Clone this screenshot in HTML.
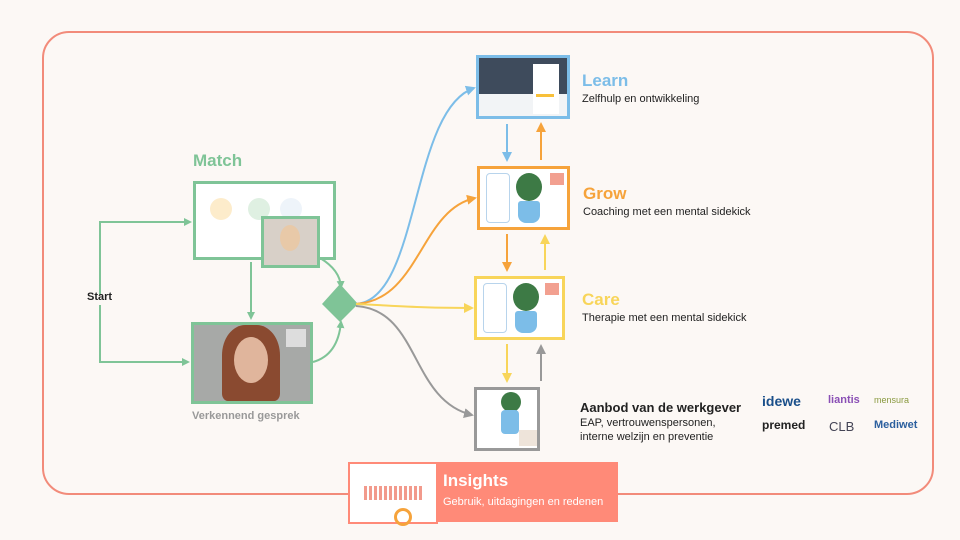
<!DOCTYPE html><html><head><style>
body{margin:0;width:960px;height:540px;background:#fcf8f5;font-family:"Liberation Sans",sans-serif;position:relative;overflow:hidden}
.a{position:absolute}
.t{position:absolute;color:#222;font-size:11px;white-space:nowrap}
.h{position:absolute;font-weight:bold;font-size:17px}
</style></head><body>
<svg class="a" style="left:0;top:0" width="960" height="540">
<defs>
<marker id="g" markerWidth="8" markerHeight="8" refX="6" refY="4" orient="auto" markerUnits="userSpaceOnUse"><path d="M0,0L8,4L0,8z" fill="#7fc497"/></marker>
<marker id="b" markerWidth="10" markerHeight="10" refX="8" refY="5" orient="auto" markerUnits="userSpaceOnUse"><path d="M0,0L10,5L0,10z" fill="#7cbde8"/></marker>
<marker id="o" markerWidth="10" markerHeight="10" refX="8" refY="5" orient="auto" markerUnits="userSpaceOnUse"><path d="M0,0L10,5L0,10z" fill="#f6a33b"/></marker>
<marker id="y" markerWidth="10" markerHeight="10" refX="8" refY="5" orient="auto" markerUnits="userSpaceOnUse"><path d="M0,0L10,5L0,10z" fill="#f8d55a"/></marker>
<marker id="k" markerWidth="10" markerHeight="10" refX="8" refY="5" orient="auto" markerUnits="userSpaceOnUse"><path d="M0,0L10,5L0,10z" fill="#999"/></marker>
</defs>
<rect x="43" y="32" width="890" height="462" rx="26" fill="none" stroke="#f28b7a" stroke-width="2"/>
<g fill="none" stroke="#7fc497" stroke-width="2">
<path d="M100,295V222H190" marker-end="url(#g)"/>
<path d="M100,305V362H188" marker-end="url(#g)"/>
<path d="M251,262V318" marker-end="url(#g)"/>
<path d="M320,258Q340,270 341,287" marker-end="url(#g)"/>
<path d="M313,362Q338,355 341,322" marker-end="url(#g)"/>
</g>
<path d="M340,284L358,304L340,322L322,304z" fill="#7fc497"/>
<path d="M356,304C420,300 410,110 474,88" fill="none" stroke="#7cbde8" stroke-width="2" marker-end="url(#b)"/>
<path d="M356,304C420,300 420,210 475,198" fill="none" stroke="#f6a33b" stroke-width="2" marker-end="url(#o)"/>
<path d="M356,304C400,306 420,308 472,308" fill="none" stroke="#f8d55a" stroke-width="2" marker-end="url(#y)"/>
<path d="M356,306C420,310 410,400 472,415" fill="none" stroke="#999" stroke-width="2" marker-end="url(#k)"/>
<path d="M507,124V160" stroke="#7cbde8" stroke-width="2" marker-end="url(#b)"/>
<path d="M541,160V124" stroke="#f6a33b" stroke-width="2" marker-end="url(#o)"/>
<path d="M507,234V270" stroke="#f6a33b" stroke-width="2" marker-end="url(#o)"/>
<path d="M545,270V236" stroke="#f8d55a" stroke-width="2" marker-end="url(#y)"/>
<path d="M507,344V381" stroke="#f8d55a" stroke-width="2" marker-end="url(#y)"/>
<path d="M541,381V346" stroke="#999" stroke-width="2" marker-end="url(#k)"/>
</svg>
<div class="t" style="left:87px;top:291px;font-weight:bold">Start</div>
<div class="h" style="left:193px;top:151px;color:#7fc497">Match</div>
<div class="a" style="left:193px;top:181px;width:137px;height:73px;border:3px solid #7fc497;background:#fff">
<div class="a" style="left:14px;top:14px;width:22px;height:22px;border-radius:50%;background:#fdeccb"></div>
<div class="a" style="left:52px;top:14px;width:22px;height:22px;border-radius:50%;background:#dff0e2"></div>
<div class="a" style="left:84px;top:14px;width:22px;height:22px;border-radius:50%;background:#eef4fa"></div>
</div>
<div class="a" style="left:261px;top:216px;width:53px;height:46px;border:3px solid #7fc497;background:#d8d0c8"><div class="a" style="left:16px;top:6px;width:20px;height:26px;border-radius:50%;background:#e8c9a8"></div></div>
<div class="a" style="left:191px;top:322px;width:116px;height:76px;border:3px solid #7fc497;background:#a7a9a7">
<div class="a" style="left:28px;top:0px;width:58px;height:76px;border-radius:40% 40% 10% 10%;background:#8a4a30"></div>
<div class="a" style="left:40px;top:12px;width:34px;height:46px;border-radius:50%;background:#e0b59c"></div>
<div class="a" style="left:92px;top:4px;width:20px;height:18px;background:#ddd"></div>
</div>
<div class="t" style="left:192px;top:410px;color:#999;font-weight:bold">Verkennend gesprek</div>
<div class="a" style="left:476px;top:55px;width:88px;height:58px;border:3px solid #7cbde8;background:#3e4b5c">
<div class="a" style="left:0;top:36px;width:88px;height:22px;background:#f2f4f6"></div>
<div class="a" style="left:54px;top:6px;width:26px;height:50px;background:#fff"></div>
<div class="a" style="left:57px;top:36px;width:18px;height:3px;background:#f8c03a"></div>
</div>
<div class="h" style="left:582px;top:71px;color:#7cbde8">Learn</div>
<div class="t" style="left:582px;top:93px">Zelfhulp en ontwikkeling</div>
<div class="a" style="left:477px;top:166px;width:87px;height:58px;border:3px solid #f6a33b;background:#fff">
<div class="a" style="left:6px;top:4px;width:22px;height:48px;border:1px solid #b8d4ec;border-radius:4px"></div>
<div class="a" style="left:36px;top:4px;width:26px;height:28px;border-radius:50%;background:#3d7a45"></div>
<div class="a" style="left:38px;top:32px;width:22px;height:22px;background:#7cbde8;border-radius:3px 3px 8px 8px"></div>
<div class="a" style="left:70px;top:4px;width:14px;height:12px;background:#f2a090"></div>
</div>
<div class="h" style="left:583px;top:184px;color:#f6a33b">Grow</div>
<div class="t" style="left:583px;top:206px">Coaching met een mental sidekick</div>
<div class="a" style="left:474px;top:276px;width:85px;height:58px;border:3px solid #f8d55a;background:#fff">
<div class="a" style="left:6px;top:4px;width:22px;height:48px;border:1px solid #b8d4ec;border-radius:4px"></div>
<div class="a" style="left:36px;top:4px;width:26px;height:28px;border-radius:50%;background:#3d7a45"></div>
<div class="a" style="left:38px;top:32px;width:22px;height:22px;background:#7cbde8;border-radius:3px 3px 8px 8px"></div>
<div class="a" style="left:68px;top:4px;width:14px;height:12px;background:#f2a090"></div>
</div>
<div class="h" style="left:582px;top:290px;color:#f8d55a">Care</div>
<div class="t" style="left:582px;top:312px">Therapie met een mental sidekick</div>
<div class="a" style="left:474px;top:387px;width:60px;height:58px;border:3px solid #999;background:#fff">
<div class="a" style="left:24px;top:2px;width:20px;height:20px;border-radius:50%;background:#3d7a45"></div>
<div class="a" style="left:24px;top:20px;width:18px;height:24px;background:#7cbde8;border-radius:4px"></div>
<div class="a" style="left:42px;top:40px;width:18px;height:16px;background:#eee4da"></div>
</div>
<div class="t" style="left:580px;top:400px;font-weight:bold;font-size:13px">Aanbod van de werkgever</div>
<div class="t" style="left:580px;top:416px;line-height:14px">EAP, vertrouwenspersonen,<br>interne welzijn en preventie</div>
<div class="t" style="left:762px;top:393px;color:#1a4f8a;font-size:14px;font-weight:bold">idewe</div>
<div class="t" style="left:828px;top:394px;color:#8a4fb5;font-size:11px;font-weight:bold">liantis</div>
<div class="t" style="left:874px;top:395px;color:#8a9a40;font-size:9px">mensura</div>
<div class="t" style="left:762px;top:418px;color:#222;font-size:12px;font-weight:bold">premed</div>
<div class="t" style="left:829px;top:419px;color:#445;font-size:13px">CLB</div>
<div class="t" style="left:874px;top:419px;color:#2b5f9e;font-size:11px;font-weight:bold">Mediwet</div>
<div class="a" style="left:348px;top:462px;width:86px;height:58px;border:2px solid #ff8a78;background:#fff">
<div class="a" style="left:14px;top:22px;width:60px;height:14px;background:repeating-linear-gradient(90deg,#f29a8c 0 3px,transparent 3px 5px)"></div>
<div class="a" style="left:44px;top:44px;width:12px;height:12px;border:3px solid #f6a33b;border-radius:50%"></div>
</div>
<div class="a" style="left:436px;top:462px;width:182px;height:60px;background:#ff8a78"></div>
<div class="h" style="left:443px;top:471px;color:#fff">Insights</div>
<div class="t" style="left:443px;top:496px;color:#fff">Gebruik, uitdagingen en redenen</div>
</body></html>
